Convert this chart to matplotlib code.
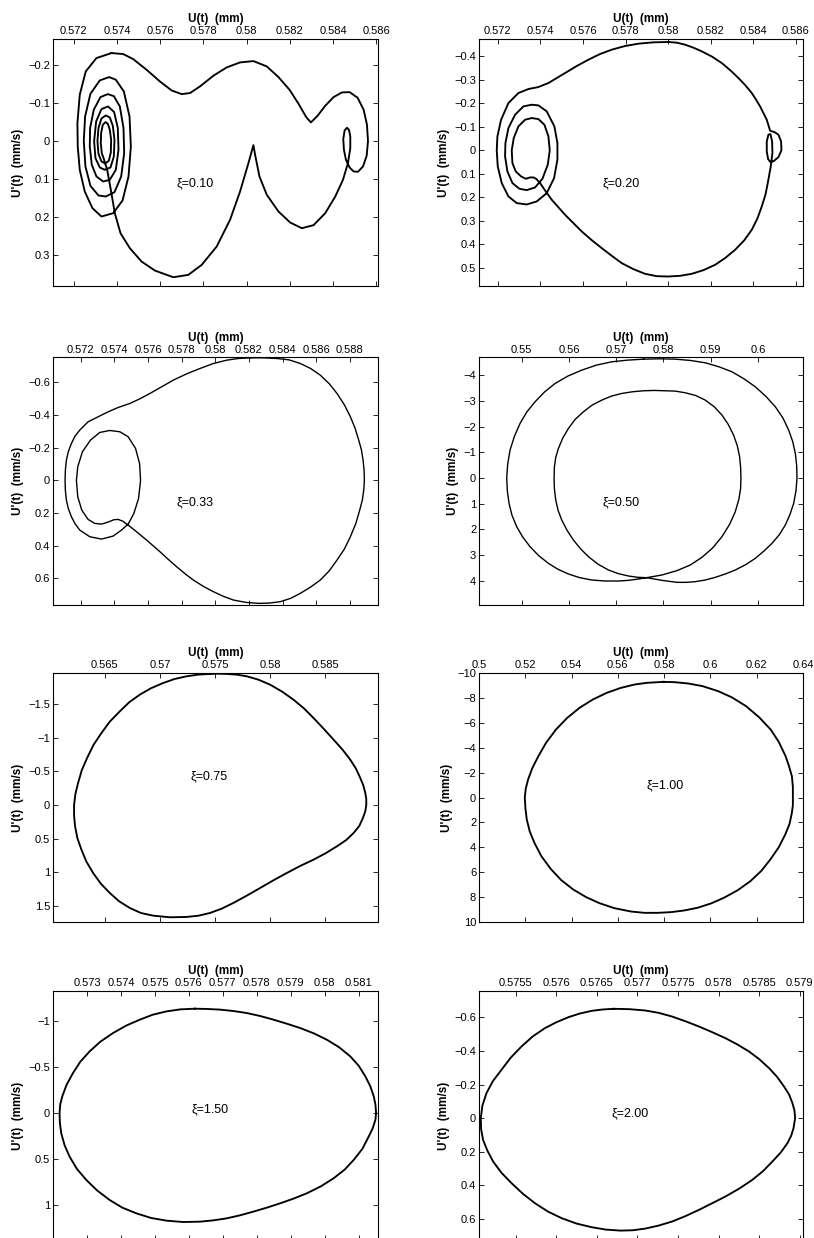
import matplotlib
matplotlib.use('Agg')
import matplotlib.pyplot as plt
from matplotlib.ticker import FuncFormatter

plt.rcParams['font.family'] = ['Liberation Sans', 'DejaVu Sans']

# xi = 0.10 : U(t) [mm] and U'(t) [mm/s] along the orbit
xi010_u = [0.573747, 0.573051, 0.572556, 0.572278, 0.572170, 0.572185, 0.572278, 0.572510, 0.572866, 0.573283,
           0.573824, 0.574257, 0.574535, 0.574643, 0.574581, 0.574318, 0.573947, 0.573638, 0.573206, 0.572773,
           0.572526, 0.572464, 0.572541, 0.572773, 0.573144, 0.573484, 0.573886, 0.574195, 0.574334, 0.574303,
           0.574133, 0.573855, 0.573577, 0.573236, 0.572927, 0.572757, 0.572742, 0.572835, 0.573051, 0.573360,
           0.573669, 0.573947, 0.574071, 0.574040, 0.573870, 0.573592, 0.573283, 0.573036, 0.572943, 0.573005,
           0.573206, 0.573437, 0.573700, 0.573855, 0.573886, 0.573808, 0.573669, 0.573484, 0.573283, 0.573144,
           0.573097, 0.573144, 0.573283, 0.573453, 0.573623, 0.573716, 0.573731, 0.573669, 0.573577, 0.573468,
           0.573345, 0.573267, 0.573252, 0.573298, 0.573406, 0.573546, 0.573716, 0.573901, 0.574164, 0.574597,
           0.575138, 0.575756, 0.576606, 0.577301, 0.577920, 0.578615, 0.579233, 0.579697, 0.580084, 0.580315,
           0.580393, 0.580594, 0.580934, 0.581475, 0.582016, 0.582556, 0.583097, 0.583638, 0.584102, 0.584458,
           0.584689, 0.584798, 0.584798, 0.584736, 0.584643, 0.584535, 0.584473, 0.584504, 0.584597, 0.584767,
           0.584952, 0.585153, 0.585385, 0.585555, 0.585617, 0.585570, 0.585416, 0.585138, 0.584767, 0.584411,
           0.584025, 0.583638, 0.583283, 0.582974, 0.582757, 0.582402, 0.581985, 0.581475, 0.580934, 0.580315,
           0.579697, 0.579079, 0.578461, 0.577842, 0.577379, 0.576992, 0.576529, 0.575988, 0.575369, 0.574751,
           0.574288, 0.573747]
xi010_v = [-0.2328, -0.2196, -0.1843, -0.1226, -0.0476, 0.0141, 0.0758, 0.1332, 0.1772, 0.1993,
           0.1905, 0.1570, 0.0935, 0.0141, -0.0653, -0.1314, -0.1623, -0.1693, -0.1605, -0.1252,
           -0.0653, 0.0, 0.0670, 0.1182, 0.1437, 0.1464, 0.1349, 0.0935, 0.0317, -0.0344,
           -0.0917, -0.1190, -0.1243, -0.1164, -0.0829, -0.0344, 0.0141, 0.0626, 0.0935, 0.1067,
           0.1023, 0.0758, 0.0229, -0.0344, -0.0767, -0.0917, -0.0847, -0.0520, 0.0, 0.0450,
           0.0697, 0.0758, 0.0697, 0.0406, -0.0035, -0.0406, -0.0626, -0.0679, -0.0600, -0.0344,
           0.0, 0.0335, 0.0538, 0.0591, 0.0520, 0.0300, -0.0035, -0.0300, -0.0459, -0.0503,
           -0.0432, -0.0212, 0.0053, 0.0317, 0.0494, 0.0758, 0.1287, 0.1905, 0.2434, 0.2831,
           0.3183, 0.3422, 0.3598, 0.3536, 0.3272, 0.2787, 0.2081, 0.1332, 0.0582, 0.0106,
           0.0362, 0.0935, 0.1420, 0.1861, 0.2152, 0.2302, 0.2222, 0.1905, 0.1464, 0.1023,
           0.0582, 0.0185, -0.0123, -0.0300, -0.0353, -0.0282, -0.0053, 0.0229, 0.0494, 0.0697,
           0.0802, 0.0811, 0.0670, 0.0388, 0.0, -0.0432, -0.0829, -0.1146, -0.1296, -0.1287,
           -0.1164, -0.0935, -0.0670, -0.0494, -0.0635, -0.0988, -0.1358, -0.1693, -0.1975, -0.2116,
           -0.2081, -0.1949, -0.1728, -0.1446, -0.1270, -0.1243, -0.1340, -0.1578, -0.1887, -0.2169,
           -0.2302, -0.2328]

# xi = 0.20
xi020_u = [0.580013, 0.579308, 0.578604, 0.577978, 0.577352, 0.576804, 0.576257, 0.575709, 0.575161, 0.574379,
           0.573909, 0.573440, 0.572970, 0.572501, 0.572157, 0.571984, 0.571953, 0.572000, 0.572188, 0.572501,
           0.572892, 0.573362, 0.573831, 0.574300, 0.574645, 0.574801, 0.574801, 0.574660, 0.574300, 0.573909,
           0.573596, 0.573205, 0.572814, 0.572501, 0.572360, 0.572344, 0.572454, 0.572689, 0.573017, 0.573362,
           0.573753, 0.574097, 0.574347, 0.574441, 0.574379, 0.574191, 0.573909, 0.573596, 0.573283, 0.572970,
           0.572751, 0.572657, 0.572689, 0.572845, 0.573096, 0.573315, 0.573518, 0.573675, 0.573800, 0.573987,
           0.574222, 0.574535, 0.575161, 0.575552, 0.575944, 0.576413, 0.576883, 0.577352, 0.577822, 0.578369,
           0.578917, 0.579465, 0.580013, 0.580560, 0.581108, 0.581656, 0.582204, 0.582689, 0.583142, 0.583565,
           0.583925, 0.584191, 0.584394, 0.584567, 0.584676, 0.584817, 0.584895, 0.584880, 0.584801, 0.584707,
           0.584629, 0.584629, 0.584692, 0.584801, 0.584958, 0.585177, 0.585318, 0.585302, 0.585177, 0.584989,
           0.584786, 0.584629, 0.584316, 0.584128, 0.583925, 0.583628, 0.583299, 0.582923, 0.582516, 0.582063,
           0.581578, 0.581186, 0.580795, 0.580404, 0.580013]
xi020_v = [-0.4610, -0.4596, -0.4539, -0.4440, -0.4284, -0.4099, -0.3858, -0.3589, -0.3291, -0.2865,
           -0.2695, -0.2610, -0.2440, -0.2014, -0.1305, -0.0596, 0.0, 0.0681, 0.1390, 0.1957,
           0.2241, 0.2298, 0.2170, 0.1816, 0.1177, 0.0397, -0.0312, -0.1021, -0.1660, -0.1915,
           -0.1943, -0.1872, -0.1518, -0.0950, -0.0312, 0.0255, 0.0894, 0.1390, 0.1631, 0.1688,
           0.1574, 0.1206, 0.0610, 0.0, -0.0596, -0.1092, -0.1333, -0.1376, -0.1305, -0.1021,
           -0.0525, 0.0, 0.0539, 0.0894, 0.1106, 0.1206, 0.1149, 0.1149, 0.1206, 0.1390,
           0.1702, 0.2099, 0.2738, 0.3092, 0.3447, 0.3816, 0.4156, 0.4482, 0.4794, 0.5050,
           0.5248, 0.5348, 0.5362, 0.5333, 0.5248, 0.5092, 0.4865, 0.4567, 0.4227, 0.3830,
           0.3376, 0.2894, 0.2383, 0.1887, 0.1390, 0.0681, 0.0113, -0.0383, -0.0695, -0.0667,
           -0.0383, 0.0043, 0.0369, 0.0496, 0.0454, 0.0284, 0.0, -0.0383, -0.0667, -0.0780,
           -0.0837, -0.1305, -0.1872, -0.2156, -0.2440, -0.2766, -0.3078, -0.3404, -0.3716, -0.3986,
           -0.4213, -0.4369, -0.4496, -0.4582, -0.4610]

# xi = 0.33
xi033_u = [0.582070, 0.581374, 0.580679, 0.579885, 0.579090, 0.578296, 0.577502, 0.576806, 0.576111, 0.575515,
           0.574920, 0.574224, 0.573629, 0.573033, 0.572437, 0.571940, 0.571662, 0.571444, 0.571265, 0.571146,
           0.571086, 0.571067, 0.571086, 0.571146, 0.571265, 0.571444, 0.571662, 0.571940, 0.572536, 0.573231,
           0.573927, 0.574423, 0.574820, 0.575158, 0.575436, 0.575555, 0.575496, 0.575257, 0.574820, 0.574324,
           0.573728, 0.573132, 0.572576, 0.572099, 0.571821, 0.571742, 0.571821, 0.572060, 0.572437, 0.572834,
           0.573231, 0.573629, 0.573966, 0.574224, 0.574483, 0.574820, 0.575317, 0.575913, 0.576707, 0.577204,
           0.577700, 0.578197, 0.578693, 0.579289, 0.579885, 0.580481, 0.581077, 0.581811, 0.582566, 0.583221,
           0.583857, 0.584473, 0.585049, 0.585664, 0.586240, 0.586777, 0.587233, 0.587670, 0.588028, 0.588346,
           0.588584, 0.588743, 0.588822, 0.588862, 0.588842, 0.588783, 0.588683, 0.588524, 0.588306, 0.588028,
           0.587670, 0.587233, 0.586777, 0.586240, 0.585664, 0.585049, 0.584373, 0.583658, 0.582864, 0.582070]
xi033_v = [-0.7510, -0.7469, -0.7367, -0.7163, -0.6857, -0.6531, -0.6143, -0.5735, -0.5327, -0.5000,
           -0.4714, -0.4469, -0.4204, -0.3898, -0.3592, -0.3082, -0.2714, -0.2265, -0.1776, -0.1245,
           -0.0633, 0.0, 0.0612, 0.1204, 0.1735, 0.2224, 0.2653, 0.3041, 0.3449, 0.3592,
           0.3408, 0.3041, 0.2673, 0.2020, 0.1102, 0.0, -0.1041, -0.1959, -0.2673, -0.2980,
           -0.3061, -0.2939, -0.2469, -0.1755, -0.0837, 0.0, 0.1000, 0.1816, 0.2388, 0.2633,
           0.2673, 0.2551, 0.2408, 0.2388, 0.2490, 0.2735, 0.3143, 0.3653, 0.4367, 0.4837,
           0.5286, 0.5714, 0.6102, 0.6490, 0.6816, 0.7102, 0.7327, 0.7469, 0.7531, 0.7510,
           0.7429, 0.7224, 0.6918, 0.6531, 0.6102, 0.5531, 0.4878, 0.4204, 0.3449, 0.2653,
           0.1816, 0.1184, 0.0592, 0.0, -0.0633, -0.1245, -0.1878, -0.2469, -0.3204, -0.3898,
           -0.4633, -0.5327, -0.5918, -0.6449, -0.6857, -0.7163, -0.7388, -0.7469, -0.7510, -0.7510]

# xi = 0.50 (period-two orbit)
xi050_u = [0.575777, 0.572387, 0.569068, 0.565819, 0.562712, 0.559746, 0.557062, 0.554802, 0.552825, 0.551059,
           0.549647, 0.548446, 0.547528, 0.547034, 0.546822, 0.546963, 0.547316, 0.547952, 0.548941, 0.550212,
           0.551766, 0.553602, 0.555650, 0.557698, 0.559887, 0.562288, 0.564831, 0.567655, 0.570480, 0.572599,
           0.574717, 0.576836, 0.579661, 0.582839, 0.585664, 0.588136, 0.590395, 0.592373, 0.593997, 0.595197,
           0.595974, 0.596327, 0.596398, 0.596327, 0.596116, 0.595621, 0.594844, 0.593714, 0.592373, 0.590748,
           0.588842, 0.586794, 0.584605, 0.582486, 0.580367, 0.578037, 0.575777, 0.573446, 0.571186, 0.568997,
           0.566949, 0.564901, 0.563065, 0.561299, 0.559887, 0.558686, 0.557768, 0.557203, 0.556921, 0.556850,
           0.556921, 0.557203, 0.557698, 0.558475, 0.559604, 0.560946, 0.562429, 0.564124, 0.566102, 0.568362,
           0.570480, 0.572599, 0.574576, 0.576483, 0.579661, 0.582839, 0.584816, 0.586723, 0.588842, 0.590960,
           0.593079, 0.595198, 0.597387, 0.599435, 0.601271, 0.602966, 0.604519, 0.605791, 0.606780, 0.607556,
           0.608051, 0.608263, 0.608192, 0.607910, 0.607344, 0.606497, 0.605296, 0.603672, 0.601695, 0.599435,
           0.597034, 0.594491, 0.591737, 0.588842, 0.585734, 0.582486, 0.579096, 0.575777]
xi050_v = [-4.636, -4.597, -4.532, -4.403, -4.208, -3.974, -3.688, -3.351, -2.974, -2.571,
           -2.130, -1.623, -1.091, -0.545, 0.0, 0.506, 0.987, 1.455, 1.896, 2.299,
           2.675, 3.026, 3.325, 3.558, 3.740, 3.883, 3.974, 4.013, 4.013, 3.987,
           3.935, 3.870, 3.779, 3.610, 3.390, 3.091, 2.727, 2.286, 1.805, 1.312,
           0.818, 0.403, 0.0, -0.416, -0.831, -1.260, -1.675, -2.091, -2.455, -2.779,
           -3.039, -3.221, -3.325, -3.390, -3.403, -3.416, -3.403, -3.364, -3.299, -3.195,
           -3.039, -2.844, -2.584, -2.286, -1.935, -1.558, -1.156, -0.805, -0.442, 0.0,
           0.429, 0.857, 1.260, 1.636, 2.039, 2.416, 2.753, 3.065, 3.351, 3.584,
           3.727, 3.818, 3.870, 3.883, 3.987, 4.065, 4.065, 4.039, 3.974, 3.870,
           3.740, 3.584, 3.377, 3.130, 2.844, 2.545, 2.208, 1.831, 1.416, 0.987,
           0.494, 0.0, -0.481, -0.961, -1.429, -1.870, -2.338, -2.779, -3.182, -3.558,
           -3.870, -4.143, -4.338, -4.494, -4.584, -4.636, -4.649, -4.636]

# xi = 0.75
xi075_u = [0.574545, 0.573485, 0.572424, 0.571333, 0.570303, 0.569182, 0.568182, 0.567212, 0.566364, 0.565455,
           0.564697, 0.563970, 0.563394, 0.562909, 0.562576, 0.562333, 0.562212, 0.562212, 0.562303, 0.562515,
           0.562879, 0.563333, 0.563939, 0.564636, 0.565455, 0.566303, 0.567273, 0.568273, 0.569394, 0.570909,
           0.572424, 0.573515, 0.574545, 0.575606, 0.576667, 0.577879, 0.579091, 0.580303, 0.581515, 0.582727,
           0.583939, 0.585030, 0.586061, 0.586909, 0.587576, 0.588091, 0.588424, 0.588636, 0.588727, 0.588727,
           0.588636, 0.588455, 0.588182, 0.587788, 0.587273, 0.586545, 0.585758, 0.584848, 0.583939, 0.583061,
           0.582121, 0.581091, 0.580000, 0.578939, 0.577879, 0.576970, 0.576061, 0.575303, 0.574545]
xi075_v = [-1.946, -1.936, -1.911, -1.871, -1.812, -1.733, -1.639, -1.525, -1.391, -1.238,
           -1.069, -0.891, -0.698, -0.515, -0.327, -0.163, 0.0, 0.158, 0.317, 0.495,
           0.663, 0.842, 1.010, 1.168, 1.307, 1.431, 1.530, 1.604, 1.644, 1.668,
           1.663, 1.644, 1.604, 1.540, 1.455, 1.347, 1.233, 1.119, 1.010, 0.906,
           0.812, 0.718, 0.614, 0.520, 0.416, 0.312, 0.193, 0.094, 0.0, -0.089,
           -0.178, -0.292, -0.401, -0.540, -0.673, -0.827, -0.970, -1.134, -1.292, -1.436,
           -1.564, -1.683, -1.787, -1.861, -1.911, -1.936, -1.946, -1.950, -1.946]

# xi = 1.00
xi100_u = [0.579713, 0.572545, 0.567240, 0.561362, 0.555197, 0.549176, 0.543441, 0.538136, 0.533262, 0.528961,
           0.525663, 0.523082, 0.521219, 0.520215, 0.519785, 0.520072, 0.520645, 0.521935, 0.523943, 0.526953,
           0.530968, 0.535556, 0.540717, 0.546308, 0.552043, 0.558495, 0.565663, 0.571398, 0.577133, 0.582867,
           0.588602, 0.594337, 0.600215, 0.605806, 0.611828, 0.617276, 0.622007, 0.625878, 0.629462, 0.632330,
           0.634193, 0.635197, 0.635627, 0.635627, 0.635627, 0.635197, 0.633907, 0.632473, 0.629606, 0.626021,
           0.621003, 0.615412, 0.609391, 0.603369, 0.596631, 0.590466, 0.584588, 0.579713]
xi100_v = [-9.290, -9.210, -9.076, -8.809, -8.407, -7.871, -7.202, -6.399, -5.462, -4.391,
           -3.320, -2.383, -1.446, -0.723, 0.0, 0.884, 1.767, 2.731, 3.641, 4.712,
           5.730, 6.640, 7.390, 8.005, 8.487, 8.889, 9.157, 9.264, 9.264, 9.210,
           9.076, 8.862, 8.514, 8.059, 7.443, 6.720, 5.890, 4.980, 4.016, 2.972,
           2.115, 1.232, 0.616, 0.0, -0.857, -1.714, -2.544, -3.320, -4.444, -5.462,
           -6.452, -7.336, -8.032, -8.541, -8.943, -9.157, -9.263, -9.290]

# xi = 1.50
xi150_u = [0.576179, 0.575756, 0.575343, 0.574939, 0.574555, 0.574152, 0.573768, 0.573394, 0.573079, 0.572803,
           0.572587, 0.572400, 0.572272, 0.572213, 0.572193, 0.572203, 0.572242, 0.572341, 0.572488, 0.572705,
           0.572980, 0.573305, 0.573669, 0.574043, 0.574457, 0.574890, 0.575343, 0.575835, 0.576327, 0.576720,
           0.577114, 0.577508, 0.577902, 0.578295, 0.578689, 0.579083, 0.579476, 0.579890, 0.580264, 0.580589,
           0.580854, 0.581110, 0.581297, 0.581415, 0.581494, 0.581514, 0.581494, 0.581445, 0.581346, 0.581199,
           0.581002, 0.580756, 0.580431, 0.580067, 0.579683, 0.579280, 0.578886, 0.578492, 0.578098, 0.577705,
           0.577311, 0.576917, 0.576543, 0.576179]
xi150_v = [-1.130, -1.123, -1.101, -1.065, -1.011, -0.946, -0.866, -0.772, -0.667, -0.554,
           -0.431, -0.304, -0.178, -0.091, 0.0, 0.112, 0.221, 0.351, 0.475, 0.609,
           0.728, 0.844, 0.946, 1.029, 1.091, 1.141, 1.170, 1.185, 1.181, 1.167,
           1.145, 1.112, 1.072, 1.029, 0.982, 0.931, 0.873, 0.797, 0.710, 0.616,
           0.511, 0.391, 0.257, 0.167, 0.076, 0.0, -0.091, -0.178, -0.286, -0.395,
           -0.511, -0.612, -0.710, -0.793, -0.862, -0.920, -0.967, -1.011, -1.051, -1.083,
           -1.105, -1.120, -1.127, -1.130]

# xi = 2.00
xi200_u = [0.576707, 0.576571, 0.576439, 0.576291, 0.576151, 0.576002, 0.575862, 0.575710, 0.575574, 0.575442,
           0.575327, 0.575220, 0.575142, 0.575092, 0.575072, 0.575076, 0.575100, 0.575154, 0.575224, 0.575327,
           0.575451, 0.575591, 0.575739, 0.575900, 0.576068, 0.576250, 0.576439, 0.576612, 0.576789, 0.576946,
           0.577098, 0.577263, 0.577428, 0.577592, 0.577757, 0.577922, 0.578086, 0.578255, 0.578416, 0.578548,
           0.578663, 0.578766, 0.578848, 0.578894, 0.578923, 0.578943, 0.578935, 0.578910, 0.578869, 0.578807,
           0.578721, 0.578622, 0.578502, 0.578375, 0.578235, 0.578086, 0.577922, 0.577757, 0.577592, 0.577428,
           0.577263, 0.577098, 0.576900, 0.576707]
xi200_v = [-0.651, -0.647, -0.639, -0.623, -0.601, -0.571, -0.536, -0.486, -0.427, -0.361,
           -0.288, -0.220, -0.149, -0.075, 0.0, 0.065, 0.129, 0.194, 0.258, 0.325,
           0.387, 0.450, 0.506, 0.556, 0.595, 0.627, 0.649, 0.663, 0.669, 0.667,
           0.657, 0.639, 0.615, 0.583, 0.546, 0.506, 0.466, 0.419, 0.367, 0.315,
           0.258, 0.204, 0.149, 0.105, 0.060, 0.0, -0.046, -0.089, -0.141, -0.188,
           -0.246, -0.298, -0.351, -0.397, -0.438, -0.476, -0.512, -0.546, -0.577, -0.605,
           -0.627, -0.641, -0.649, -0.651]

# damping ratios and tick values for each panel
xi_labels = ['0.10', '0.20', '0.33', '0.50', '0.75', '1.00', '1.50', '2.00']
u_ticks = [
    [0.572, 0.574, 0.576, 0.578, 0.580, 0.582, 0.584, 0.586],
    [0.572, 0.574, 0.576, 0.578, 0.580, 0.582, 0.584, 0.586],
    [0.572, 0.574, 0.576, 0.578, 0.580, 0.582, 0.584, 0.586, 0.588],
    [0.55, 0.56, 0.57, 0.58, 0.59, 0.60],
    [0.565, 0.570, 0.575, 0.580, 0.585],
    [0.50, 0.52, 0.54, 0.56, 0.58, 0.60, 0.62, 0.64],
    [0.573, 0.574, 0.575, 0.576, 0.577, 0.578, 0.579, 0.580, 0.581],
    [0.5755, 0.5760, 0.5765, 0.5770, 0.5775, 0.5780, 0.5785, 0.5790],
]
v_ticks = [
    [-0.2, -0.1, 0, 0.1, 0.2, 0.3],
    [-0.4, -0.3, -0.2, -0.1, 0, 0.1, 0.2, 0.3, 0.4, 0.5],
    [-0.6, -0.4, -0.2, 0, 0.2, 0.4, 0.6],
    [-4, -3, -2, -1, 0, 1, 2, 3, 4],
    [-1.5, -1, -0.5, 0, 0.5, 1, 1.5],
    [-10, -8, -6, -4, -2, 0, 2, 4, 6, 8, 10],
    [-1, -0.5, 0, 0.5, 1],
    [-0.6, -0.4, -0.2, 0, 0.2, 0.4, 0.6],
]
u_limits = [(0.57104, 0.58608), (0.57112, 0.58633), (0.57035, 0.58967), (0.54096, 0.60953),
            (0.5603, 0.58979), (0.50, 0.64), (0.57200, 0.58157), (0.57505, 0.57904)]
v_limits = [(0.383, -0.270), (0.5766, -0.4738), (0.763, -0.753), (4.948, -4.70),
            (1.738, -1.960), (10, -10), (1.380, -1.322), (0.725, -0.757)]
# where the xi annotation sits (data units)
label_u = [0.57676, 0.576914, 0.5777, 0.56709, 0.57282, 0.57254, 0.57608, 0.576686]
label_v = [0.111, 0.139, 0.131, 0.961, -0.426, -0.964, -0.033, -0.030]

orbits = [(xi010_u, xi010_v), (xi020_u, xi020_v), (xi033_u, xi033_v), (xi050_u, xi050_v),
          (xi075_u, xi075_v), (xi100_u, xi100_v), (xi150_u, xi150_v), (xi200_u, xi200_v)]


def tickText(val, pos):
    return ('%g' % val).replace('-', '\u2212')


def phasePlot(ax, k):
    u, v = orbits[k]
    lw = 1.0 if k in (2, 3) else 1.35
    ax.plot(u, v, color='black', linewidth=lw, solid_joinstyle='round')
    ax.set_xlim(u_limits[k])
    ax.set_ylim(v_limits[k])  # velocity axis runs downwards
    ax.set_xticks(u_ticks[k])
    ax.set_yticks(v_ticks[k])
    ax.xaxis.set_major_formatter(FuncFormatter(tickText))
    ax.yaxis.set_major_formatter(FuncFormatter(tickText))
    ax.tick_params(direction='in', top=True, bottom=True, left=True, right=True,
                   labeltop=True, labelbottom=False, length=3.5, width=0.6,
                   labelsize=8, pad=2)
    ax.xaxis.set_label_position('top')
    ax.set_xlabel('U(t)  (mm)', fontsize=8.5, fontweight='bold', labelpad=3)
    ax.set_ylabel("U'(t)  (mm/s)", fontsize=8.5, fontweight='bold', labelpad=3)
    for s in ax.spines.values():
        s.set_linewidth(0.8)
    ax.text(label_u[k], label_v[k], '\u03be=' + xi_labels[k], fontsize=9,
            ha='left', va='center')


def main():
    fig = plt.figure(figsize=(8.14, 12.38), dpi=100)
    # axes boxes: (left, bottom, width, height) in figure fractions
    lefts = [0.06511, 0.58845]
    widths = [0.39926, 0.39803]
    rows = [(0.76898, 0.19952), (0.51131, 0.19992), (0.25525, 0.20113), (-0.00162, 0.20113)]
    for k in range(8):
        r, c = divmod(k, 2)
        ax = fig.add_axes([lefts[c], rows[r][0], widths[c], rows[r][1]])
        phasePlot(ax, k)
    fig.savefig('out.png', dpi=100)


main()
